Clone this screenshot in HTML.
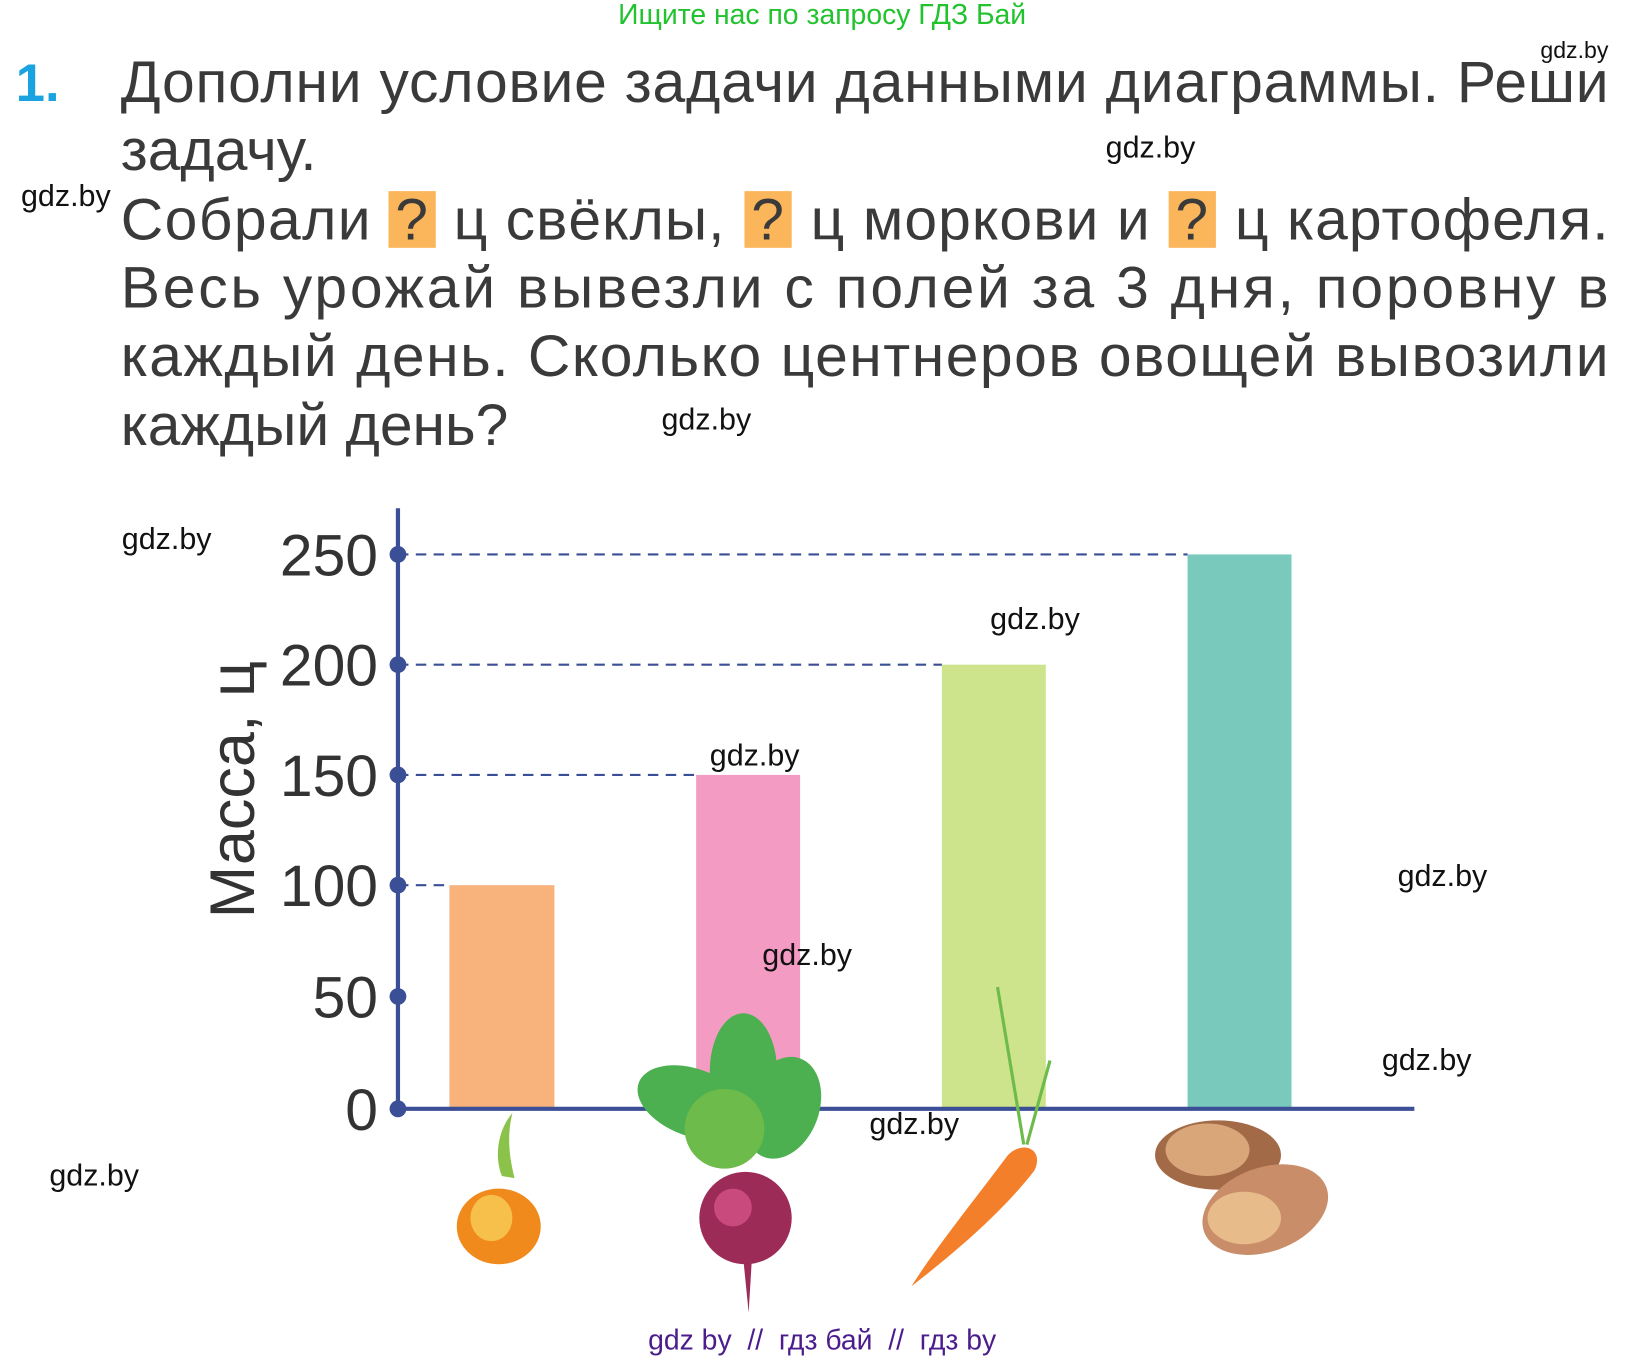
<!DOCTYPE html>
<html><head><meta charset="utf-8"><style>
html,body{margin:0;padding:0;background:#fff}
svg{display:block}
text{font-family:"Liberation Sans",sans-serif;white-space:pre}
</style></head><body>
<svg width="1646" height="1358" viewBox="0 0 1567.6 1293.3" xmlns="http://www.w3.org/2000/svg">
<text x="783" y="23" font-size="27" fill="#22c32e" text-anchor="middle">Ищите нас по запросу ГДЗ Бай</text>
<text x="15" y="96" font-size="50" font-weight="bold" fill="#1aa3e0">1.</text>
<g font-size="56" fill="#3a3a3a">
<text x="115" y="97" textLength="1417" lengthAdjust="spacing">Дополни условие задачи данными диаграммы. Реши</text>
<text x="115" y="162">задачу.</text>
<rect x="370" y="182" width="45" height="54" fill="#fbb55a"/>
<rect x="709" y="182" width="45" height="54" fill="#fbb55a"/>
<rect x="1113" y="182" width="45" height="54" fill="#fbb55a"/>
<text x="115" y="228" textLength="238" lengthAdjust="spacing">Собрали</text>
<text x="392" y="228" text-anchor="middle">?</text>
<text x="432" y="228" textLength="258" lengthAdjust="spacing">ц свёклы,</text>
<text x="731" y="228" text-anchor="middle">?</text>
<text x="772" y="228" textLength="323" lengthAdjust="spacing">ц моркови и</text>
<text x="1135" y="228" text-anchor="middle">?</text>
<text x="1176" y="228" textLength="356" lengthAdjust="spacing">ц картофеля.</text>
<text x="115" y="293" textLength="1417" lengthAdjust="spacing">Весь урожай вывезли с полей за 3 дня, поровну в</text>
<text x="115" y="358" textLength="1417" lengthAdjust="spacing">каждый день. Сколько центнеров овощей вывозили</text>
<text x="115" y="424">каждый день?</text>
</g>
<!-- bars -->
<rect x="428" y="843" width="100" height="213" fill="#f8b27c"/>
<rect x="663" y="738" width="99" height="318" fill="#f39bc3"/>
<rect x="897" y="633" width="99" height="423" fill="#cde38c"/>
<rect x="1131" y="528" width="99" height="528" fill="#79cabd"/>
<g stroke="#3b4f96" stroke-width="2" stroke-dasharray="10,7">
<line x1="379" y1="528" x2="1131" y2="528"/>
<line x1="379" y1="633" x2="897" y2="633"/>
<line x1="379" y1="738" x2="663" y2="738"/>
<line x1="379" y1="843" x2="428" y2="843"/>
</g>
<line x1="379" y1="484" x2="379" y2="1058" stroke="#3b4f96" stroke-width="4"/>
<line x1="377" y1="1056" x2="1347" y2="1056" stroke="#3b4f96" stroke-width="4"/>
<g fill="#3b4f96">
<circle cx="379" cy="1056" r="8"/><circle cx="379" cy="949" r="8"/><circle cx="379" cy="843" r="8"/>
<circle cx="379" cy="738" r="8"/><circle cx="379" cy="633" r="8"/><circle cx="379" cy="528" r="8"/>
</g>
<g font-size="56" fill="#333" text-anchor="end">
<text x="360" y="1076">0</text><text x="360" y="969">50</text><text x="360" y="863">100</text>
<text x="360" y="758">150</text><text x="360" y="653">200</text><text x="360" y="548">250</text>
</g>
<text transform="translate(242,752) rotate(-90)" font-size="60" fill="#333" text-anchor="middle">Масса, ц</text>
<!-- vegetables -->
<path d="M478,1120 C470,1100 475,1075 488,1060 C482,1085 486,1105 490,1122 Z" fill="#8bc34a"/>
<ellipse cx="475" cy="1168" rx="40" ry="36" fill="#f08a1c"/>
<ellipse cx="468" cy="1160" rx="20" ry="22" fill="#f7c04a"/>
<g fill="#4caf50">
<ellipse cx="660" cy="1050" rx="55" ry="32" transform="rotate(20 660 1050)"/>
<ellipse cx="708" cy="1020" rx="32" ry="55"/>
<ellipse cx="745" cy="1055" rx="35" ry="50" transform="rotate(20 745 1055)"/>
<ellipse cx="690" cy="1075" rx="38" ry="38" fill="#6dbb4a"/>
</g>
<ellipse cx="710" cy="1160" rx="44" ry="44" fill="#9c2b57"/>
<ellipse cx="698" cy="1150" rx="18" ry="18" fill="#c94a7c"/>
<path d="M708,1200 L713,1250 L716,1200 Z" fill="#9c2b57"/>
<path d="M975,1090 L960,1000 M978,1090 L1000,1010 M975,1090 L950,940" stroke="#6dbb4a" stroke-width="3" fill="none"/>
<path d="M960,1100 C975,1085 995,1095 985,1115 C950,1160 900,1200 868,1225 C890,1190 930,1140 960,1100 Z" fill="#f47f2a"/>
<ellipse cx="1160" cy="1100" rx="60" ry="33" fill="#a36a48"/>
<ellipse cx="1150" cy="1095" rx="40" ry="25" fill="#d9a679"/>
<ellipse cx="1205" cy="1152" rx="62" ry="40" transform="rotate(-20 1205 1152)" fill="#c98e69"/>
<ellipse cx="1185" cy="1160" rx="35" ry="25" fill="#e8bb8a"/>
<!-- watermarks -->
<g font-size="29" fill="#111">
<text x="1467" y="55" font-size="22">gdz.by</text>
<text x="1053" y="150">gdz.by</text>
<text x="20" y="196">gdz.by</text>
<text x="630" y="409">gdz.by</text>
<text x="116" y="523">gdz.by</text>
<text x="943" y="599">gdz.by</text>
<text x="676" y="729">gdz.by</text>
<text x="1331" y="844">gdz.by</text>
<text x="726" y="919">gdz.by</text>
<text x="1316" y="1019">gdz.by</text>
<text x="828" y="1080">gdz.by</text>
<text x="47" y="1129">gdz.by</text>
</g>
<text x="783" y="1285" font-size="27" fill="#4b1d8c" text-anchor="middle" xml:space="preserve">gdz by  //  гдз бай  //  гдз by</text>
</svg>
</body></html>
